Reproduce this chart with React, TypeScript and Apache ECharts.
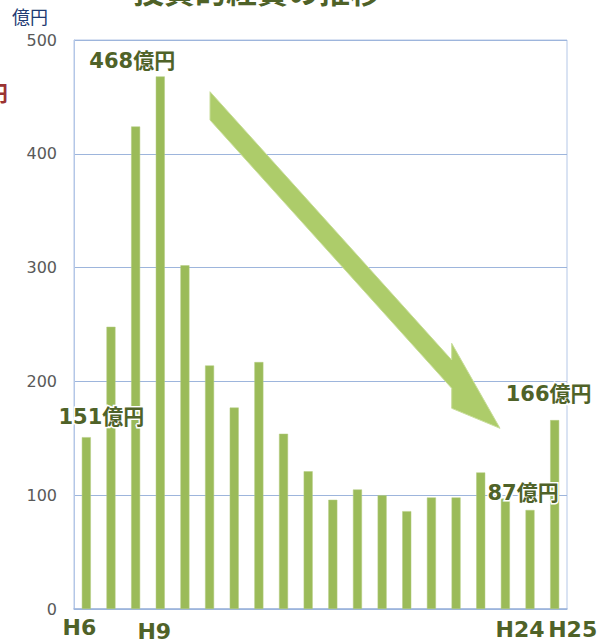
import React, { useEffect, useRef } from "react";
import * as echarts from "echarts";

const categories = ["H6","H7","H8","H9","H10","H11","H12","H13","H14","H15","H16","H17","H18","H19","H20","H21","H22","H23","H24","H25"];
const values = [151, 248, 424, 468, 302, 214, 177, 217, 154, 121, 96, 105, 100, 86, 98, 98, 120, 97, 87, 166];
const shownTicks: Record<string, string> = { H6: "a", H9: "b", H24: "c", H25: "d" };
const callouts: Record<number, string> = { 0: "151億円", 3: "468億円", 18: "87億円", 19: "166億円" };
const yTicks = [0, 100, 200, 300, 400, 500];
const titleText = "投資的経費の推移";
const unitText = "億円";

const GREEN_DARK = "#4F6228";
const FONT = "'DejaVu Sans', 'Noto Sans CJK JP', sans-serif";

const calloutOffsets: Record<number, number[]> = {
  0: [15, -5],
  3: [-28, 0],
  18: [-7, -2],
  19: [-6, -11],
};

export default function App() {
  const ref = useRef<HTMLDivElement>(null);
  useEffect(() => {
    if (!ref.current) return;
    const chart = echarts.init(ref.current, null, { renderer: "svg" });
    const data = values.map((v, i) => {
      if (callouts[i] === undefined) return v;
      return {
        value: v,
        label: {
          show: true,
          position: "top",
          distance: 5,
          offset: calloutOffsets[i],
          formatter: callouts[i],
          color: GREEN_DARK,
          fontSize: 21,
          fontWeight: "bold",
          fontFamily: FONT,
          textBorderColor: "#ffffff",
          textBorderWidth: 3,
        },
      };
    });
    chart.setOption({
      animation: false,
      backgroundColor: "#ffffff",
      grid: {
        left: 74,
        right: 44,
        top: 40,
        bottom: 34,
        show: true,
        borderColor: "#B4C7E7",
        borderWidth: 1,
        containLabel: false,
      },
      xAxis: {
        type: "category",
        data: categories,
        axisLine: { show: true, lineStyle: { color: "#9DB5DC", width: 1.5 } },
        axisTick: { show: false },
        axisLabel: {
          interval: 0,
          margin: 7,
          hideOverlap: false,
          formatter: (v: string) => (shownTicks[v] ? `{${shownTicks[v]}|${v}}` : ""),
          rich: {
            a: { fontSize: 22, fontWeight: "bold", color: GREEN_DARK, fontFamily: FONT, padding: [0, 14, 0, 0] },
            b: { fontSize: 22, fontWeight: "bold", color: GREEN_DARK, fontFamily: FONT, padding: [4, 12, 0, 0] },
            c: { fontSize: 22, fontWeight: "bold", color: GREEN_DARK, fontFamily: FONT, padding: [2, 20, 0, 0] },
            d: { fontSize: 22, fontWeight: "bold", color: GREEN_DARK, fontFamily: FONT, padding: [2, 0, 0, 36] },
          },
        },
      },
      yAxis: {
        type: "value",
        min: yTicks[0],
        max: yTicks[yTicks.length - 1],
        interval: 100,
        axisLine: { show: true, lineStyle: { color: "#B4C7E7" } },
        axisTick: { show: false },
        splitLine: { show: true, lineStyle: { color: "#9DB5DC", width: 1 } },
        axisLabel: { color: "#595959", fontSize: 16, fontFamily: FONT, margin: 17 },
      },
      series: [
        {
          type: "bar",
          data,
          barWidth: 9,
          itemStyle: { color: "#9BBB59", borderColor: "#B5CD80", borderWidth: 0.5 },
          z: 2,
        },
      ],
      graphic: [
        {
          type: "text",
          x: 257,
          y: -11,
          style: {
            text: titleText,
            fill: GREEN_DARK,
            font: `bold 31px 'Noto Sans CJK JP', sans-serif`,
            align: "center",
            verticalAlign: "middle",
          },
          z: 10,
        },
        {
          type: "text",
          x: 12,
          y: 7,
          style: {
            text: unitText,
            fill: "#1F3B73",
            font: `18px 'Noto Sans CJK JP', sans-serif`,
            align: "left",
            verticalAlign: "top",
          },
          z: 10,
        },
        {
          type: "text",
          x: -14,
          y: 80,
          style: {
            text: "円",
            fill: "#9B3333",
            font: `bold 22px 'Noto Sans CJK JP', sans-serif`,
            align: "left",
            verticalAlign: "top",
          },
          z: 10,
        },
        {
          type: "polygon",
          shape: {
            points: [
              [210, 91.7],
              [451.7, 360],
              [451.7, 343.3],
              [500, 428.3],
              [451.7, 408.3],
              [451.7, 388.3],
              [210, 120],
            ],
          },
          style: { fill: "#ADCC6A", stroke: "#C8DD9A", lineWidth: 1 },
          z: 5,
        },
      ],
    });
    return () => chart.dispose();
  }, []);
  return (
    <div
      ref={ref}
      style={{ position: "fixed", left: 0, top: 0, width: 611, height: 643, background: "#fff" }}
    />
  );
}
